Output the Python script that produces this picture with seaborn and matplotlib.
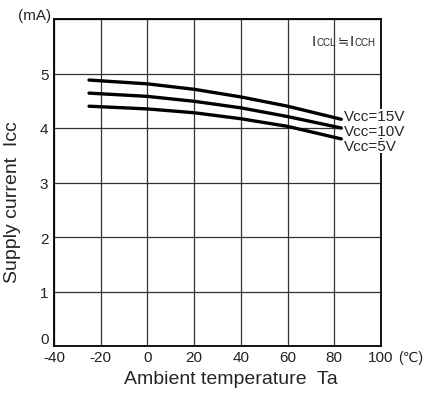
import seaborn as sns
import pandas as pd
import matplotlib.pyplot as plt

sns.set_style("white")
plt.rcParams['font.family'] = ['Liberation Sans', 'DejaVu Sans', 'Noto Sans CJK JP']

# values
temp = [-25, 0, 20, 40, 60, 83]
icc_15v = [4.88, 4.81, 4.71, 4.57, 4.40, 4.16]
icc_10v = [4.64, 4.58, 4.49, 4.37, 4.21, 4.00]
icc_5v = [4.40, 4.35, 4.28, 4.17, 4.03, 3.80]
series = ['Vcc=15V', 'Vcc=10V', 'Vcc=5V']
label_y = [4.22, 3.95, 3.67]
xticks = [-40, -20, 0, 20, 40, 60, 80, 100]
xticklabels = ['-40', '-20', '0', '20', '40', '60', '80', '100']
yticks = [0, 1, 2, 3, 4, 5, 6]
yticklabels = ['0', '1', '2', '3', '4', '5', '']

df = pd.DataFrame({
    'Ta': temp * 3,
    'Icc': icc_15v + icc_10v + icc_5v,
    'Vcc': [s for s in series for _ in temp],
})

fig = plt.figure(figsize=(4.25, 4.02), dpi=100)
ax = fig.add_axes([54 / 425, 1 - 347 / 402, 327 / 425, 327 / 402])

sns.lineplot(data=df, x='Ta', y='Icc', hue='Vcc', palette=['black'] * 3,
             linewidth=2.4, legend=False, ax=ax)

ax.set_xlim(-40, 100)
ax.set_ylim(0, 6)
ax.set_xticks(xticks)
ax.set_xticklabels(xticklabels)
ax.set_yticks(yticks)
ax.set_yticklabels(yticklabels)
ax.grid(True, color='#333333', linewidth=0.9)
ax.tick_params(length=0, labelsize=11, pad=3, colors='#222222')
ax.tick_params(axis='y', pad=4)
for s in ax.spines.values():
    s.set_color('black')
    s.set_linewidth(1.3)
ax.set_xlabel('')
ax.set_ylabel('')

# the y "0" sits on the axis line, above the x labels
ax.get_yticklabels()[0].set_verticalalignment('bottom')

# unit after the last x tick label
ax.annotate('(\u2103)', xy=(1, 0), xycoords='axes fraction', xytext=(12, -3),
            textcoords='offset points', fontsize=10, ha='left', va='top',
            color='#222222')

for name, y in zip(series, label_y):
    ax.text(84, y, name, fontsize=11, ha='left', va='center',
            bbox=dict(facecolor='white', edgecolor='none', pad=0.3))

# I_CCL ≒ I_CCH
base = (0.789, 0.922)
ax.annotate('I', xy=base, xycoords='axes fraction', fontsize=11,
            ha='left', va='baseline')
ax.annotate('CCL', xy=base, xycoords='axes fraction', xytext=(3.2, 0),
            textcoords='offset points', fontsize=7, ha='left', va='baseline')
ax.annotate('\u2252', xy=base, xycoords='axes fraction', xytext=(18.3, 0),
            textcoords='offset points', fontsize=9.5, ha='left', va='baseline')
ax.annotate('I', xy=base, xycoords='axes fraction', xytext=(27.3, 0),
            textcoords='offset points', fontsize=11, ha='left', va='baseline')
ax.annotate('CCH', xy=base, xycoords='axes fraction', xytext=(30.5, 0),
            textcoords='offset points', fontsize=7, ha='left', va='baseline')

fig.text(18 / 425, 1 - 16 / 402, '(mA)', fontsize=11, ha='left', va='center')
fig.text(231 / 425, 1 - 380 / 402, 'Ambient temperature  Ta', fontsize=14,
         ha='center', va='center')
fig.text(13 / 425, 1 - 202 / 402, 'Supply current  Icc', fontsize=14,
         rotation=90, ha='center', va='center')

fig.savefig('out.png', dpi=100)
